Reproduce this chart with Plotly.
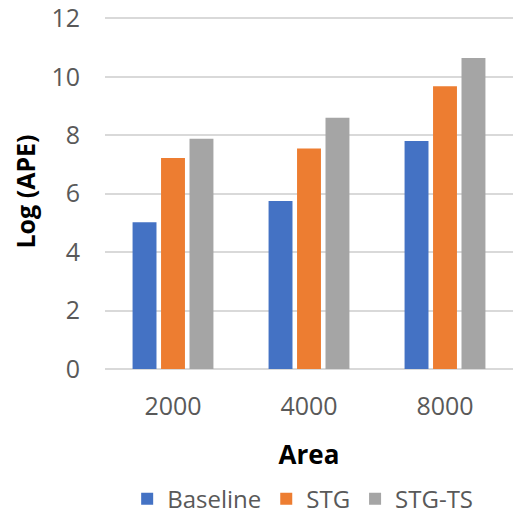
import plotly.graph_objects as go

areas = ["2000", "4000", "8000"]
baseline = [5.02, 5.75, 7.8]
stg = [7.22, 7.55, 9.68]
stg_ts = [7.88, 8.6, 10.64]
series_names = ["Baseline", "STG", "STG-TS"]
colors = ["#4472C4", "#ED7D31", "#A5A5A5"]

fig = go.Figure()
for name, vals, col in zip(series_names, [baseline, stg, stg_ts], colors):
    fig.add_trace(go.Bar(x=areas, y=vals, name=name, marker=dict(color=col, line=dict(width=0))))

font_family = "Open Sans"
fig.update_layout(
    width=513, height=515,
    margin=dict(l=105, r=0, t=12, b=146),
    paper_bgcolor="white", plot_bgcolor="white",
    barmode="group", bargap=0.372, bargroupgap=0.16,
    font=dict(family=font_family, size=24, color="#595959"),
    legend=dict(orientation="h", xref="container", yref="container",
                x=0.59, xanchor="center", y=0.031, yanchor="middle",
                font=dict(size=24, color="#595959"), itemwidth=30,
                tracegroupgap=0),
    xaxis=dict(showgrid=False, showline=False, ticks="", ticklabelstandoff=20,
               tickfont=dict(size=25, color="#595959"),
               title=dict(text="<b>Area</b>", font=dict(size=26, color="#000000"), standoff=24)),
    yaxis=dict(range=[0, 12.15], tickvals=[0, 2, 4, 6, 8, 10, 12], showgrid=True,
               gridcolor="#D9D9D9", gridwidth=2, ticklabeloverflow="allow",
               zeroline=True, zerolinecolor="#D9D9D9", zerolinewidth=2, showline=False,
               ticks="", ticklabelstandoff=24, tickfont=dict(size=25, color="#595959"),
               title=dict(text="<b>Log (APE)</b>", font=dict(size=25, color="#000000"), standoff=8)),
)

fig.write_html("out.html")
